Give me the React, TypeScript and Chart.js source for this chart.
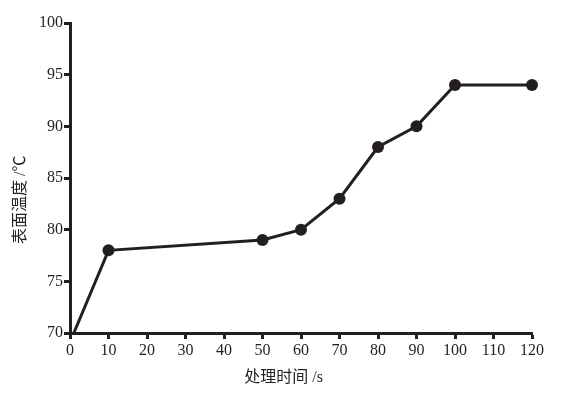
import React, { useEffect, useRef } from "react";
import { Chart, registerables } from "chart.js";

Chart.register(...registerables);

const timeS = [1, 10, 50, 60, 70, 80, 90, 100, 120];
const tempC = [70, 78, 79, 80, 83, 88, 90, 94, 94];
const pointRadii = [0, 6, 6, 6, 6, 6, 6, 6, 6];
const xTitle = "处理时间 /s";
const yTitle = "表面温度 /℃";

const INK = "#231f20";
const FONT = "'Liberation Serif', 'Noto Sans CJK SC', serif";

export default function App() {
  const ref = useRef<HTMLCanvasElement>(null);
  useEffect(() => {
    document.body.style.margin = "0";
    const titles = {
      id: "titles",
      afterDraw(chart: any) {
        const ctx = chart.ctx;
        ctx.save();
        ctx.fillStyle = INK;
        ctx.font = `16px ${FONT}`;
        ctx.textAlign = "center";
        ctx.textBaseline = "middle";
        const xs = chart.scales.x;
        ctx.fillText(xTitle, xs.getPixelForValue(55.5), 378);
        ctx.translate(21, chart.scales.y.getPixelForValue(82.9));
        ctx.rotate(-Math.PI / 2);
        ctx.fillText(yTitle, 0, 0);
        ctx.restore();
      },
    };
    const chart = new Chart(ref.current!, {
      type: "line",
      data: {
        datasets: [
          {
            data: timeS.map((x, i) => ({ x, y: tempC[i] })),
            borderColor: INK,
            backgroundColor: INK,
            borderWidth: 3,
            pointRadius: pointRadii,
            pointBackgroundColor: INK,
            pointBorderColor: INK,
            pointBorderWidth: 0,
            tension: 0,
            clip: false,
          },
        ],
      },
      options: {
        responsive: false,
        animation: false,
        layout: { padding: { top: 23, right: 50, left: 0, bottom: 0 } },
        plugins: { legend: { display: false }, tooltip: { enabled: false } },
        scales: {
          x: {
            type: "linear",
            min: 0,
            max: 120,
            afterFit: (s: any) => {
              s.height = 65;
            },
            ticks: { stepSize: 10, color: INK, padding: 2, font: { family: FONT, size: 16 } },
            border: { display: true, color: INK, width: 3 },
            grid: { drawOnChartArea: false, drawTicks: true, tickLength: 6, tickWidth: 3, tickColor: INK, color: INK },
          },
          y: {
            min: 70,
            max: 100,
            afterFit: (s: any) => {
              s.width = 70;
            },
            ticks: { stepSize: 5, color: INK, padding: 1, font: { family: FONT, size: 16 } },
            border: { display: true, color: INK, width: 3 },
            grid: { drawOnChartArea: false, drawTicks: true, tickLength: 6, tickWidth: 3, tickColor: INK, color: INK },
          },
        },
      },
      plugins: [titles],
    });
    return () => chart.destroy();
  }, []);
  return <canvas ref={ref} width={582} height={398} style={{ display: "block" }} />;
}
